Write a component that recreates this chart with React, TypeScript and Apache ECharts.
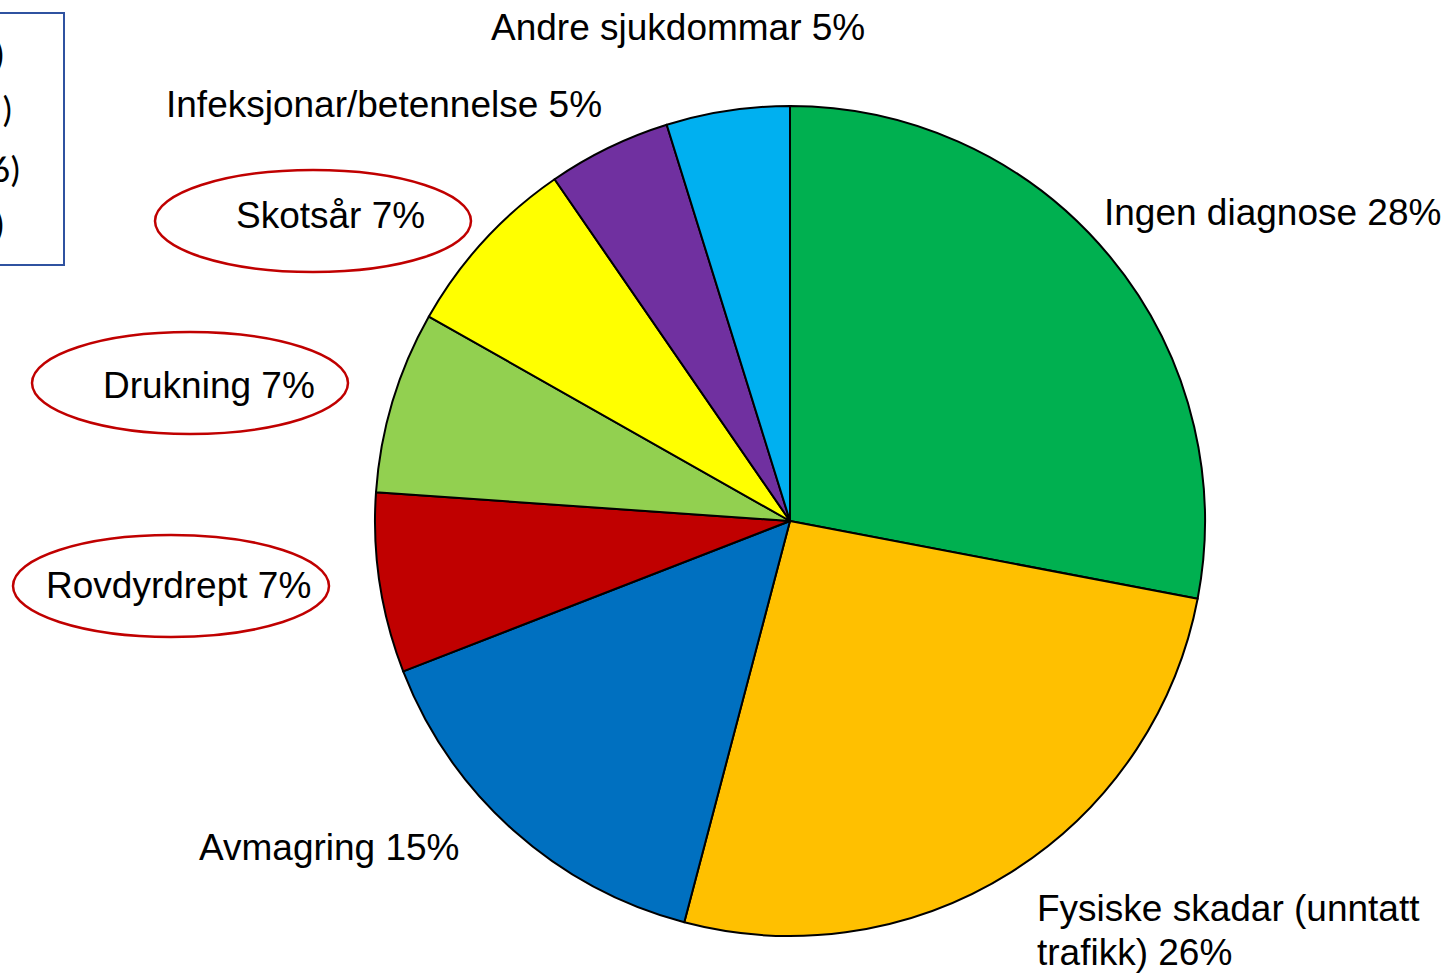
import React, { useEffect, useRef } from "react";
import * as echarts from "echarts";

const categories = [
  "Ingen diagnose",
  "Fysiske skadar (unntatt\ntrafikk)",
  "Avmagring",
  "Rovdyrdrept",
  "Drukning",
  "Skotsår",
  "Infeksjonar/betennelse",
  "Andre sjukdommar",
];
// slice sizes (labels show them rounded)
const shares = [28, 26.1, 15, 7, 7.1, 7.2, 4.8, 4.8];
const colors = ["#00B050", "#FFC000", "#0070C0", "#C00000", "#92D050", "#FFFF00", "#7030A0", "#00B0F0"];
const circledIndices = [3, 4, 5];
const boxFragments = [")", ")", "6)", ")"];

// label anchor positions (left edge, vertical middle)
const labelPos: [number, number][] = [
  [1104, 212],
  [1037, 930],
  [199, 847],
  [46, 585],
  [103, 385],
  [236, 215],
  [166, 104],
  [491, 27],
];
const ellipsePos: [number, number][] = [
  [171, 586],
  [190, 383],
  [313, 221],
];
const fragPos: [number, number][] = [
  [5, 55],
  [13, 110],
  [21, 170],
  [5, 225],
];

export default function App() {
  const ref = useRef<HTMLDivElement>(null);
  useEffect(() => {
    document.body.style.margin = "0";
    const chart = echarts.init(ref.current!, null, { renderer: "svg" });
    const font = "Liberation Sans, Arial, sans-serif";
    const graphics: any[] = [];
    circledIndices.forEach((_, i) => {
      graphics.push({
        type: "ellipse",
        shape: { cx: ellipsePos[i][0], cy: ellipsePos[i][1], rx: 158, ry: 51 },
        style: { fill: "none", stroke: "#C00000", lineWidth: 2.5 },
        z: 10,
      });
    });
    graphics.push({
      type: "rect",
      shape: { x: -10, y: 13, width: 74, height: 252 },
      style: { fill: "none", stroke: "#2F52A0", lineWidth: 2 },
    });
    boxFragments.forEach((t, i) => {
      graphics.push({
        type: "text",
        x: fragPos[i][0],
        y: fragPos[i][1],
        style: {
          text: t,
          fill: "#000",
          font: "36px Carlito, 'Open Sans', sans-serif",
          textAlign: "right",
          textVerticalAlign: "middle",
        },
      });
    });
    chart.setOption({
      animation: false,
      backgroundColor: "#fff",
      graphic: graphics,
      series: [
        {
          type: "pie",
          center: [790, 521],
          radius: 415,
          startAngle: 90,
          clockwise: true,
          silent: true,
          data: categories.map((n, i) => ({
            name: n,
            value: shares[i],
            itemStyle: { color: colors[i] },
          })),
          itemStyle: { borderColor: "#000", borderWidth: 2 },
          label: {
            show: true,
            position: "outside",
            formatter: (p: any) => `${p.name} ${Math.round(p.value)}%`,
            color: "#000",
            fontSize: 37,
            lineHeight: 44,
            fontFamily: font,
            overflow: "none",
          },
          labelLine: { show: false },
          labelLayout: (p: any) => ({
            x: labelPos[p.dataIndex][0],
            y: labelPos[p.dataIndex][1],
            align: "left",
            verticalAlign: "middle",
          }),
        },
      ],
    });
    return () => chart.dispose();
  }, []);
  return <div ref={ref} style={{ width: 1448, height: 973 }} />;
}
